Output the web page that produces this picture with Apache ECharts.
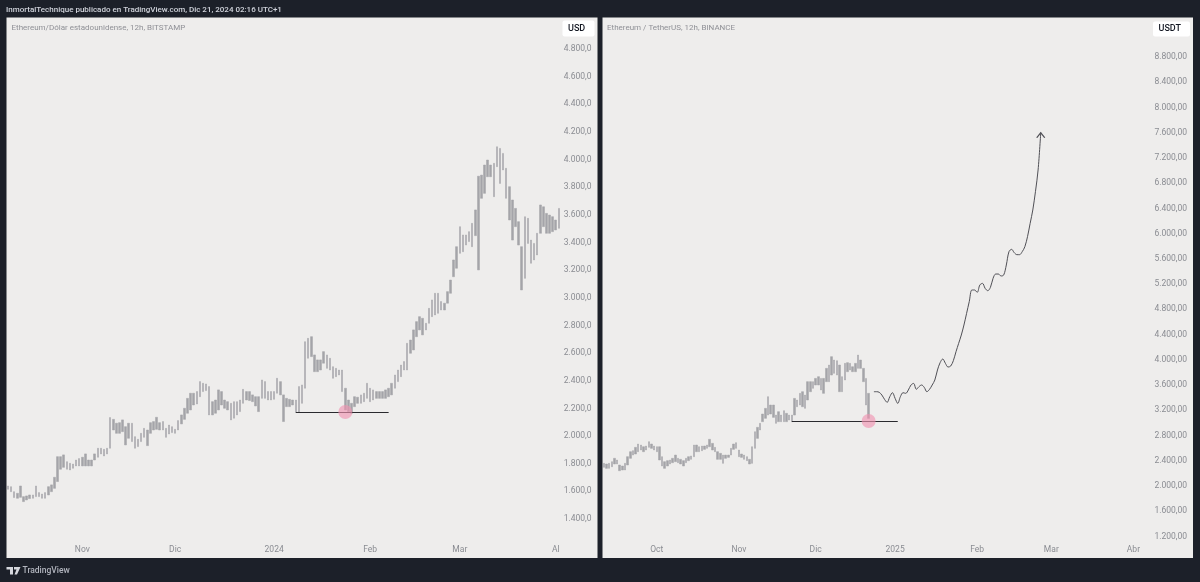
<!DOCTYPE html>
<html>
<head>
	<meta charset="UTF-8">
	<title>ETH</title>
	<style>html,body{margin:0;padding:0;background:#1c2029;}</style>
</head>
<body>
	<div id="mychart" style="width:1200px;height:582px;"></div>
<script type="text/javascript" src="https://cdn.jsdelivr.net/npm/echarts@6/dist/echarts.min.js"></script>
<script type="text/javascript">
	// izquierda: ETH/USD, velas de un dia aprox. (maximo / minimo)
	var leftHigh = [1639,1634,1598,1586,1639,1562,1567,1574,1574,1639,
		1591,1581,1591,1634,1647,1702,1851,1851,1864,1815,
		1803,1798,1827,1837,1847,1871,1827,1827,1871,1912,
		1912,1904,1912,2134,2121,2093,2097,2117,2068,2093,
		2093,1996,1977,2020,2056,2044,2097,2105,2136,2097,
		2105,2056,2080,2068,2049,2112,2153,2201,2273,2310,
		2310,2322,2394,2382,2377,2358,2249,2261,2334,2322,
		2261,2249,2237,2249,2249,2261,2338,2322,2322,2298,
		2285,2285,2406,2394,2322,2322,2322,2418,2394,2298,
		2273,2266,2261,2261,2358,2370,2683,2707,2719,2587,
		2551,2551,2611,2587,2563,2502,2490,2478,2478,2346,
		2261,2237,2285,2281,2298,2310,2382,2346,2334,2322,
		2322,2322,2334,2346,2382,2442,2478,2514,2539,2671,
		2695,2768,2828,2864,2852,2816,2924,2985,3033,3033,
		2973,2961,3045,3129,3274,3370,3515,3455,3455,3479,
		3539,3636,3880,3888,3961,3997,3961,3973,4093,4081,
		4045,3937,3804,3708,3647,3551,3370,3587,3575,3418,
		3394,3467,3672,3659,3611,3599,3587,3563,3647];
	var leftLow = [1615,1598,1555,1550,1557,1526,1538,1548,1550,1562,
		1562,1550,1550,1574,1598,1622,1671,1760,1774,1760,
		1755,1767,1784,1784,1784,1784,1784,1784,1827,1847,
		1871,1856,1871,1912,2044,2020,2020,2032,1936,1984,
		1960,1912,1924,1960,1991,1931,2020,2044,2049,2044,
		2044,1991,2015,2025,2020,2044,2088,2121,2165,2189,
		2225,2232,2285,2322,2329,2153,2153,2165,2189,2225,
		2201,2189,2117,2129,2153,2177,2237,2261,2257,2249,
		2218,2177,2273,2273,2261,2261,2266,2310,2298,2105,
		2213,2213,2225,2172,2172,2237,2346,2563,2575,2466,
		2466,2478,2527,2490,2478,2418,2430,2442,2322,2189,
		2177,2165,2213,2237,2237,2249,2273,2249,2261,2273,
		2273,2273,2273,2285,2298,2346,2394,2430,2478,2478,
		2599,2623,2719,2768,2732,2768,2816,2864,2876,2888,
		2912,2912,2961,3033,3153,3214,3322,3334,3382,3407,
		3370,3450,3202,3720,3756,3876,3876,3732,3949,3828,
		3925,3720,3563,3418,3515,3382,3057,3141,3394,3250,
		3274,3310,3467,3515,3467,3467,3479,3491,3503];
	var leftBars = 191;
	var leftTicks = [4800,4600,4400,4200,4000,3800,3600,3400,3200,3000,2800,2600,2400,2200,2000,1800,1600,1400];
	var leftMonths = ['Nov','Dic','2024','Feb','Mar','Al'];
	var leftMonthBars = [24,54,86,117,146,177];
	var leftLevel = 2171, leftLevelFrom = 93, leftLevelTo = 123;
	var leftDotBar = 109, leftDotValue = 2174;

	// derecha: ETH/USDT
	var rightHigh = [2359,2349,2359,2386,2439,2412,2333,2317,2359,2465,
		2544,2560,2613,2666,2650,2623,2634,2703,2666,2634,
		2623,2623,2465,2386,2402,2412,2439,2491,2439,2423,
		2402,2439,2465,2476,2650,2650,2623,2634,2634,2650,
		2740,2676,2613,2544,2518,2491,2491,2491,2597,2666,
		2687,2571,2507,2491,2465,2423,2623,2861,2930,2993,
		3141,3231,3416,3284,3284,3125,3178,3125,3194,3152,
		3125,3125,3389,3363,3469,3495,3442,3654,3654,3654,
		3706,3733,3706,3706,3865,3918,4050,3997,3986,3918,
		3733,3944,3955,3944,3891,3944,4076,3997,3865,3706,
		3469];
	var rightLow = [2296,2280,2280,2306,2349,2349,2243,2254,2254,2333,
		2439,2491,2507,2544,2571,2544,2571,2613,2597,2571,
		2544,2412,2317,2280,2317,2349,2370,2386,2370,2349,
		2317,2370,2402,2423,2465,2544,2544,2560,2581,2597,
		2623,2571,2544,2423,2423,2359,2439,2454,2491,2581,
		2597,2465,2454,2423,2402,2349,2359,2597,2755,2888,
		3020,3073,3125,3141,3088,2993,3020,3020,3020,3020,
		3046,3020,3125,3257,3284,3257,3231,3363,3495,3548,
		3601,3601,3522,3469,3654,3654,3759,3786,3759,3495,
		3495,3680,3812,3839,3812,3812,3865,3865,3654,3284,
		3072];
	var rightBars = 223;
	var rightTicks = [8800,8400,8000,7600,7200,6800,6400,6000,5600,5200,4800,4400,4000,3600,3200,2800,2400,2000,1600,1200];
	var rightMonths = ['Oct','Nov','Dic','2025','Feb','Mar','Abr'];
	var rightMonthBars = [20,51,80,110,141,169,200];
	var rightLevel = 3031, rightLevelFrom = 71, rightLevelTo = 111;
	var rightDotBar = 100, rightDotValue = 3031;

	// proyeccion dibujada a mano, desde la vela forecastStart
	var forecastStart = 102;
	var forecast = [3495,3495,3485,3442,3374,3326,3416,3479,3389,3310,3416,3479,3469,3522,3601,3627,
		3532,3574,3601,3564,3495,3532,3601,3680,3839,3955,4013,3944,3886,3902,3987,4129,4261,4393,
		4552,4737,4922,5107,5107,5070,5186,5212,5133,5096,5149,5292,5360,5360,5329,5344,5503,5714,
		5751,5698,5667,5667,5714,5793,5952,6163,6375,6665,7009,7600];

	var panelColor = '#eeedec', candleColor = '#a4a4a9', labelColor = '#8a8c92';
	var labelFont = 'Roboto, sans-serif';

	function barNames(n){
		var arr = [];
		for(var i = 0; i < n; i++){ arr.push('b' + i); }
		return arr;
	}
	function price(v,dec){
		return String(v).replace(/\B(?=(\d{3})+$)/g,'.') + ',' + dec;
	}
	function candles(high,low){
		return high.map(function(h,k){ return [low[k],h,low[k],h]; });
	}
	function xAxis(idx,n,labels,bars){
		return {
			type:'category', gridIndex:idx, data:barNames(n),
			axisLine:{show:false}, axisTick:{show:false}, splitLine:{show:false},
			axisLabel:{
				inside:true, margin:4, color:labelColor, fontSize:8.5, fontFamily:labelFont, hideOverlap:false,
				interval:function(i){ return bars.indexOf(i) >= 0; },
				formatter:function(v,i){ return labels[bars.indexOf(i)]; }
			}
		};
	}
	function yAxis(idx,min,max,ticks,dec){
		return {
			type:'value', gridIndex:idx, position:'right', min:min, max:max,
			axisLine:{show:false}, splitLine:{show:false},
			axisTick:{show:false, customValues:ticks},
			axisLabel:{
				inside:true, margin:6, color:labelColor, fontSize:8.5, fontFamily:labelFont,
				padding:[3,0,0,0],
				customValues:ticks, showMinLabel:true, showMaxLabel:true,
				formatter:function(v){ return price(v,dec); }
			}
		};
	}
	function candleSeries(idx,high,low,level,from,to,dotBar,dotValue){
		return {
			type:'candlestick', xAxisIndex:idx, yAxisIndex:idx,
			data:candles(high,low), barWidth:2,
			itemStyle:{color:candleColor, color0:candleColor, borderColor:candleColor, borderColor0:candleColor, borderWidth:0.5},
			markLine:{
				silent:true, symbol:'none', label:{show:false},
				lineStyle:{color:'#2a2a2e', width:1, type:'solid'},
				data:[[{xAxis:from, yAxis:level},{xAxis:to, yAxis:level}]]
			},
			markPoint:{
				silent:true, symbol:'circle', symbolSize:14, label:{show:false},
				itemStyle:{color:'rgba(240,145,176,0.62)'},
				data:[{coord:[dotBar,dotValue]}]
			}
		};
	}
	function chrome(text,x,y,color,size,weight){
		return {type:'text', x:x, y:y, z:6, silent:true, style:{text:text, fill:color, fontSize:size, fontWeight:weight||'normal', fontFamily:labelFont, verticalAlign:'middle'}};
	}
	function box(x,y,w,h){
		return {type:'rect', silent:true, z:5, shape:{x:x, y:y, width:w, height:h, r:2}, style:{fill:'#ffffff'}};
	}

	var myChart = echarts.init(document.getElementById("mychart"));
	var option = {
		animation:false,
		backgroundColor:'#1c2029',
		grid:[
			{left:6.5, top:17.5, width:591, height:540.5, show:true, backgroundColor:panelColor, borderWidth:0},
			{left:602.5, top:17.5, width:590.5, height:540.5, show:true, backgroundColor:panelColor, borderWidth:0}
		],
		xAxis:[xAxis(0,leftBars,leftMonths,leftMonthBars), xAxis(1,rightBars,rightMonths,rightMonthBars)],
		yAxis:[yAxis(0,1118,5028,leftTicks,'0'), yAxis(1,859,9426,rightTicks,'00')],
		series:[
			candleSeries(0,leftHigh,leftLow,leftLevel,leftLevelFrom,leftLevelTo,leftDotBar,leftDotValue),
			candleSeries(1,rightHigh,rightLow,rightLevel,rightLevelFrom,rightLevelTo,rightDotBar,rightDotValue),
			{
				type:'line', xAxisIndex:1, yAxisIndex:1, smooth:0.35,
				data:forecast.map(function(v,k){ return [forecastStart+k,v]; }),
				lineStyle:{color:'#505056', width:1},
				showAllSymbol:true, symbolSize:[8,5], symbolOffset:[0,2.5],
				symbol:function(v,p){ return p.dataIndex == forecast.length-1 ? 'path://M0,10L5,0L10,10' : 'none'; },
				itemStyle:{color:'transparent', borderColor:'#505056', borderWidth:1}
			}
		],
		graphic:[
			chrome('InmortalTechnique publicado en TradingView.com, Dic 21, 2024 02:16 UTC+1',6,9.5,'#d1d4dc',8,'500'),
			chrome('Ethereum/Dólar estadounidense, 12h, BITSTAMP',11.5,27.5,'#8f9096',8),
			chrome('Ethereum / TetherUS, 12h, BINANCE',607,27.5,'#8f9096',8),
			box(562.5,20.5,32,16),
			box(1153,21.5,37,15),
			chrome('USD',568,29,'#131722',9,'500'),
			chrome('USDT',1158.5,29,'#131722',9,'500'),
			{type:'polygon', silent:true, shape:{points:[[6.5,567],[13,567],[13,574.5],[10,574.5],[10,569.5],[6.5,569.5]]}, style:{fill:'#d6d8de'}},
			{type:'polygon', silent:true, shape:{points:[[14,567],[20.5,567],[17,574.5],[14.5,574.5],[16.5,569.5],[14,569.5]]}, style:{fill:'#d6d8de'}},
			chrome('TradingView',22.5,571,'#b2b5be',8.5,'500')
		]
	};
	myChart.setOption(option);
</script>
</body>
</html>
